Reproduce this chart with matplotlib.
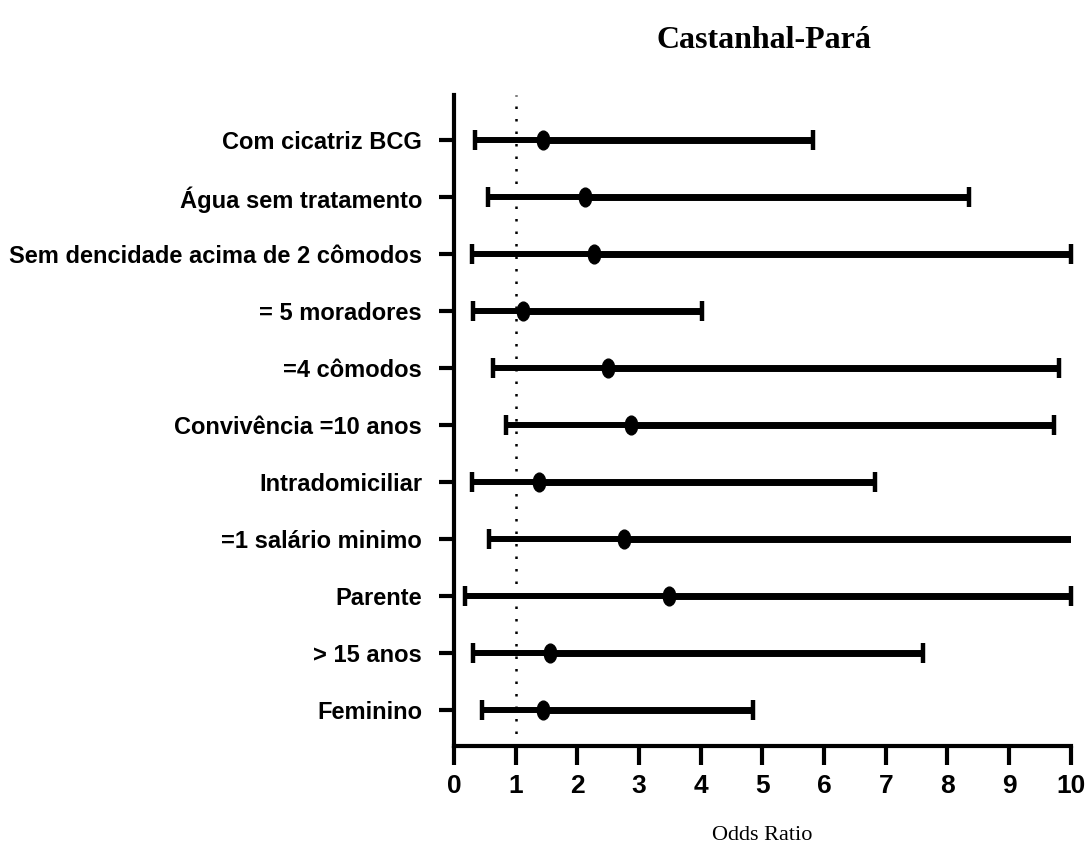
import matplotlib
matplotlib.use("Agg")
import matplotlib.pyplot as plt
from matplotlib.path import Path
import numpy as np

labels = ["Com cicatriz BCG", "Água sem tratamento",
          "Sem dencidade acima de 2 cômodos", "= 5 moradores",
          "=4 cômodos", "Convivência =10 anos", "Intradomiciliar",
          "=1 salário minimo", "Parente", "> 15 anos", "Feminino"]
odds = [1.44, 2.13, 2.27, 1.12, 2.50, 2.87, 1.38, 2.76, 3.48, 1.56, 1.44]
ci_low = [0.34, 0.55, 0.29, 0.31, 0.63, 0.84, 0.29, 0.57, 0.18, 0.31, 0.45]
ci_high = [5.82, 8.35, 10.0, 4.02, 9.81, 9.72, 6.82, 11.5, 10.0, 7.60, 4.85]
xticks = [0, 1, 2, 3, 4, 5, 6, 7, 8, 9, 10]


def main():
    sans = ["Liberation Sans Narrow", "Liberation Sans", "DejaVu Sans"]
    serif = ["Liberation Serif", "DejaVu Serif"]

    fig = plt.figure(figsize=(10.86, 8.56), dpi=100)
    ax = fig.add_axes([0.418, 0.1285, 0.568, 0.7605])

    # ellipse marker, taller than wide
    circ = Path.unit_circle()
    ellipse = Path(circ.vertices * [1.0, 1.5], circ.codes)

    n = len(labels)
    ypos = np.arange(n)[::-1]
    xmax = 10

    ax.axvline(1, color="black", linestyle=(0, (1, 4)), lw=1.8, zorder=1)

    for y, pt, lo, hi in zip(ypos, odds, ci_low, ci_high):
        ax.plot([lo, pt], [y, y], color="black", lw=4.3, solid_capstyle="butt")
        ax.plot([pt, hi], [y, y], color="black", lw=5.0, solid_capstyle="butt")
        ax.plot([lo], [y], marker="|", color="black", ms=14, mew=3.2,
                clip_on=False)
        if hi <= xmax:
            ax.plot([hi], [y], marker="|", color="black", ms=14, mew=3.2,
                    clip_on=False)
        ax.plot([pt], [y], marker=ellipse, color="black", ms=13.5, zorder=3)

    ax.set_xlim(0, xmax)
    ax.set_ylim(-0.63, n - 1 + 0.79)
    ax.set_xticks(xticks)
    ax.set_xticklabels([str(t) for t in xticks], family=sans,
                       fontweight="bold", fontsize=19)
    ax.set_yticks(ypos)
    ax.set_yticklabels(labels, family=sans, fontweight="bold", fontsize=17)

    for side in ["top", "right"]:
        ax.spines[side].set_visible(False)
    for side in ["left", "bottom"]:
        ax.spines[side].set_linewidth(3)
    ax.tick_params(axis="x", length=14, width=3, pad=6)
    ax.tick_params(axis="y", length=11, width=3, pad=12)

    fig.text(0.702, 0.024, "Odds Ratio", family=serif, fontsize=16,
             ha="center", va="center")
    fig.text(0.703, 0.953, "Castanhal-Pará", family=serif, fontsize=23,
             fontweight="bold", ha="center", va="center")

    fig.savefig("out.png", dpi=100)


if __name__ == "__main__":
    main()
